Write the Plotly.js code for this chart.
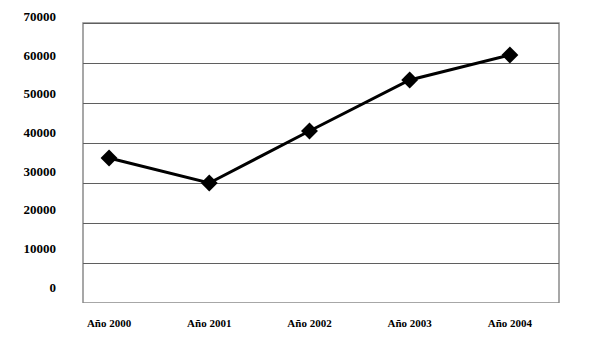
<!DOCTYPE html>
<html>
<head>
<meta charset="utf-8">
<script src="https://cdn.plot.ly/plotly-3.0.1.min.js"></script>
<style>html,body{margin:0;padding:0;background:#fff;}#chart{width:600px;height:345px;}</style>
</head>
<body>
<div id="chart"></div>
<script>
const categories = ["Año 2000", "Año 2001", "Año 2002", "Año 2003", "Año 2004"];
const values = [36250, 30000, 43000, 55750, 62000];
const yTicks = [0, 10000, 20000, 30000, 40000, 50000, 60000, 70000];

const font = {family: "Liberation Serif, Times New Roman, serif", color: "#000"};

const trace = {
  x: categories,
  y: values,
  type: "scatter",
  mode: "lines+markers",
  line: {color: "#000", width: 3},
  marker: {symbol: "diamond", size: 13, color: "#000"},
  hoverinfo: "x+y",
  showlegend: false
};

// empty helper trace so the label axis (yaxis2) is drawn
const labelAxisTrace = {
  x: [categories[0]],
  y: [null],
  yaxis: "y2",
  type: "scatter",
  mode: "markers",
  marker: {opacity: 0},
  hoverinfo: "skip",
  showlegend: false
};

const layout = {
  width: 600, height: 345,
  margin: {l: 83, r: 41, t: 10, b: 42},
  paper_bgcolor: "#fff", plot_bgcolor: "#fff",
  xaxis: {
    type: "category",
    range: [-0.26, 4.49],
    showgrid: false, zeroline: false, showline: false,
    ticks: "",
    ticklabelstandoff: 12,
    tickfont: Object.assign({size: 11, weight: "bold"}, font)
  },
  yaxis: {
    range: [0, 73250],
    tickvals: yTicks,
    showticklabels: false,
    showgrid: true, gridcolor: "#5f5f5f", gridwidth: 1,
    zeroline: false, showline: false, ticks: ""
  },
  yaxis2: {
    overlaying: "y",
    side: "left",
    range: [-4138, 71632],
    tickvals: yTicks,
    ticktext: yTicks.map(String),
    showgrid: false, zeroline: false, showline: false, ticks: "",
    ticklabelstandoff: 26,
    tickfont: Object.assign({size: 13, weight: "bold"}, font)
  },
  shapes: [{
    type: "rect", xref: "paper", yref: "y",
    x0: 0, x1: 1, y0: 0, y1: 70000,
    line: {color: "#8a8a8a", width: 1.5}, layer: "below"
  }]
};

Plotly.newPlot("chart", [trace, labelAxisTrace], layout, {displayModeBar: false, staticPlot: true});
</script>
</body>
</html>
